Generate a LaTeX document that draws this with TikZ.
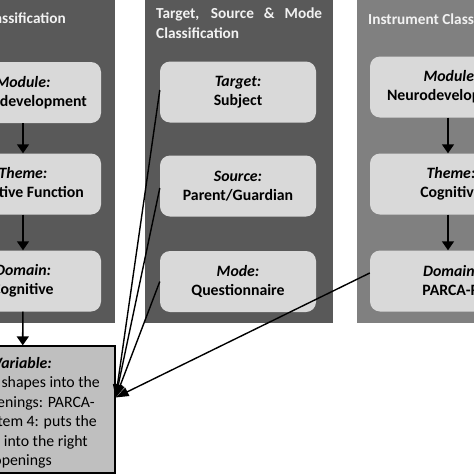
\documentclass[tikz,border=0pt]{standalone}
\usepackage{fontspec}
\setmainfont{Carlito}
\usetikzlibrary{arrows.meta,calc}
\definecolor{paneldark}{HTML}{595959}
\definecolor{panellight}{HTML}{808080}
\definecolor{boxfill}{HTML}{D9D9D9}
\definecolor{varfill}{HTML}{BFBFBF}
\definecolor{titlecol}{HTML}{F2F2F2}
\begin{document}
\begin{tikzpicture}[x=1pt,y=-1pt,
  cbox/.style={fill=boxfill,draw=none,rounded corners=10pt,minimum width=156pt,minimum height=61pt,
    inner sep=0pt},
  btext/.style={align=center,inner sep=0pt,font=\fontsize{15.8}{19}\selectfont\bfseries},
  vbox/.style={fill=varfill,draw=black,line width=1.3pt,minimum width=185pt,minimum height=127pt,inner sep=0pt},
  vline/.style={anchor=base east,inner sep=0pt,font=\fontsize{15.8}{19}\selectfont},
  ptitle/.style={text=titlecol,inner sep=0pt,font=\fontsize{15.3}{20}\selectfont\bfseries},
  flow/.style={line width=1.6pt,-{Triangle[length=9pt,width=12pt]}},
  link/.style={line width=1.4pt,-{Triangle[length=13pt,width=9pt]}}]
\useasboundingbox (0,0) rectangle (474,474);
\clip (0,0) rectangle (474,474);
\fill[white] (0,0) rectangle (474,474);
% panels
\fill[paneldark] (-100,0) rectangle (115,323);
\fill[paneldark] (145,0) rectangle (333,323);
\fill[panellight] (357,0) rectangle (600,323);
% titles
\node[ptitle,anchor=east] (ltitle) at (66,18) {Classification};
\node[ptitle,anchor=north west,text width=166pt,align=justify] (mtitle) at (156,8) {\hyphenpenalty=10000 Target, Source \& Mode Classification};
\node[ptitle,anchor=west] (rtitle) at (368,19) {Instrument Classification};
% left column
\node[cbox] (lmod) at (23,92.5) {};
\node[btext] at (lmod) {\textit{Module:}\\Neurodevelopment};
\node[cbox] (lthe) at (23,184) {};
\node[btext] at (lthe) {\textit{Theme:}\\Cognitive Function};
\node[cbox] (ldom) at (23,281) {};
\node[btext] at (ldom) {\textit{Domain:}\\Cognitive};
% middle column
\node[cbox] (mtar) at (238,92) {};
\node[btext] at (mtar) {\textit{Target:}\\Subject};
\node[cbox] (msrc) at (238,186) {};
\node[btext] at (msrc) {\textit{Source:}\\Parent/Guardian};
\node[cbox] (mmod) at (238,281.5) {};
\node[btext] at (mmod) {\textit{Mode:}\\Questionnaire};
% right column
\node[cbox] (rmod) at (448,87) {};
\node[btext] at (451,87) {\textit{Module:}\\Neurodevelopment};
\node[cbox] (rthe) at (448,184) {};
\node[btext] at (451,184) {\textit{Theme:}\\Cognitive};
\node[cbox] (rdom) at (448,281) {};
\node[btext] at (451,281) {\textit{Domain:}\\PARCA-R};
% variable box
\node[vbox] (var) at (22.5,409.5) {};
\node[vline] (v1) at (52,368) {\bfseries\itshape Variable:};
\node[vline] (v2) at (100,387.5) {shapes into the};
\node[vline] (v3) at (95,407) {openings: PARCA-};
\node[vline] (v4) at (97,426.5) {Item 4: puts the};
\node[vline] (v5) at (88,446) {into the right};
\node[vline] (v6) at (52,465.5) {openings};
% flow arrows
\draw[flow] (lmod) -- (lthe);
\draw[flow] (lthe) -- (ldom);
\draw[flow] (ldom) -- (var);
\draw[flow] (rmod) -- (rthe);
\draw[flow] (rthe) -- (rdom);
% links
\coordinate (vtip) at ([yshift=12pt]var.east);
\draw[link] ([yshift=2pt]mtar.west) -- (vtip);
\draw[link] ([yshift=-2pt]msrc.west) -- (vtip);
\draw[link] (mmod.west) -- (vtip);
\draw[link] ([yshift=8pt]rdom.west) -- (vtip);
\end{tikzpicture}
\end{document}
